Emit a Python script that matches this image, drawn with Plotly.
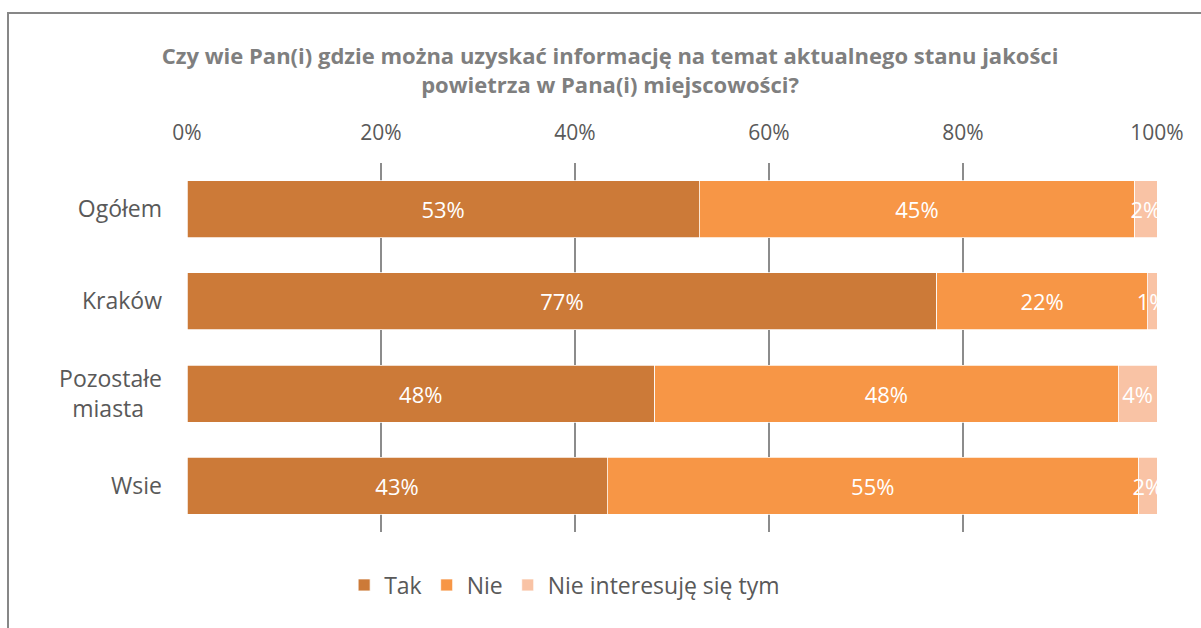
import plotly.graph_objects as go

categories = ["Ogółem", "Kraków", "Pozostałe<br>miasta\u00a0\u00a0\u00a0", "Wsie"]
tak = [52.8, 77.3, 48.2, 43.3]
nie = [44.9, 21.7, 47.8, 54.8]
nie_int = [2.3, 1.0, 4.0, 1.9]
tick_vals = [0, 20, 40, 60, 80, 100]
tick_text = ["0%", "20%", "40%", "60%", "80%", "100%"]

series = [("Tak", tak, "#CC7A38"), ("Nie", nie, "#F79646"), ("Nie interesuję się tym", nie_int, "#F9C3A5")]

FONT = "Open Sans"
fig = go.Figure()
for name, vals, col in series:
    fig.add_trace(go.Bar(
        y=categories, x=vals, name=name, orientation="h",
        marker=dict(color=col, line=dict(color="white", width=0.75)),
        width=0.62,
        texttemplate="%{x:.0f}%", textposition="inside", insidetextanchor="middle",
        textangle=0,
        textfont=dict(color="white", size=22, family=FONT),
        cliponaxis=True,
    ))

fig.update_layout(
    barmode="stack",
    width=1201, height=628,
    margin=dict(l=187, r=44, t=163, b=96),
    paper_bgcolor="white", plot_bgcolor="white",
    font=dict(family=FONT, color="#595959"),
    uniformtext=dict(mode="show", minsize=22),
    title=dict(text="Czy wie Pan(i) gdzie można uzyskać informację na temat aktualnego stanu jakości<br>powietrza w Pana(i) miejscowości?",
               x=0.508, xanchor="center", y=0.898, yanchor="middle",
               font=dict(size=22, color="#7F7F7F", family=FONT, weight="bold")),
    legend=dict(orientation="h", x=0.162, xanchor="left", y=-0.1436, yanchor="middle",
                font=dict(size=23, color="#595959"), traceorder="normal"),
    showlegend=True,
)
fig.update_xaxes(range=[0, 100], side="top", tickvals=tick_vals, ticktext=tick_text,
                 showgrid=True, gridcolor="#8C8C8C", gridwidth=1.5, zeroline=False,
                 tickfont=dict(size=21, color="#595959"), ticklabelstandoff=18, ticks="")
fig.update_yaxes(autorange="reversed", tickfont=dict(size=23, color="#595959"),
                 ticklabelstandoff=24, showgrid=False, ticks="")

fig.add_shape(type="rect", xref="paper", yref="paper",
              x0=(8 - 187) / 970, x1=(1210 - 187) / 970,
              y0=(532 - 640) / 369, y1=(532 - 13) / 369,
              line=dict(color="#878787", width=2), fillcolor="rgba(0,0,0,0)", layer="below")

fig.write_html("out.html", config={"displayModeBar": False},
               post_script="document.body.style.margin='0';")
